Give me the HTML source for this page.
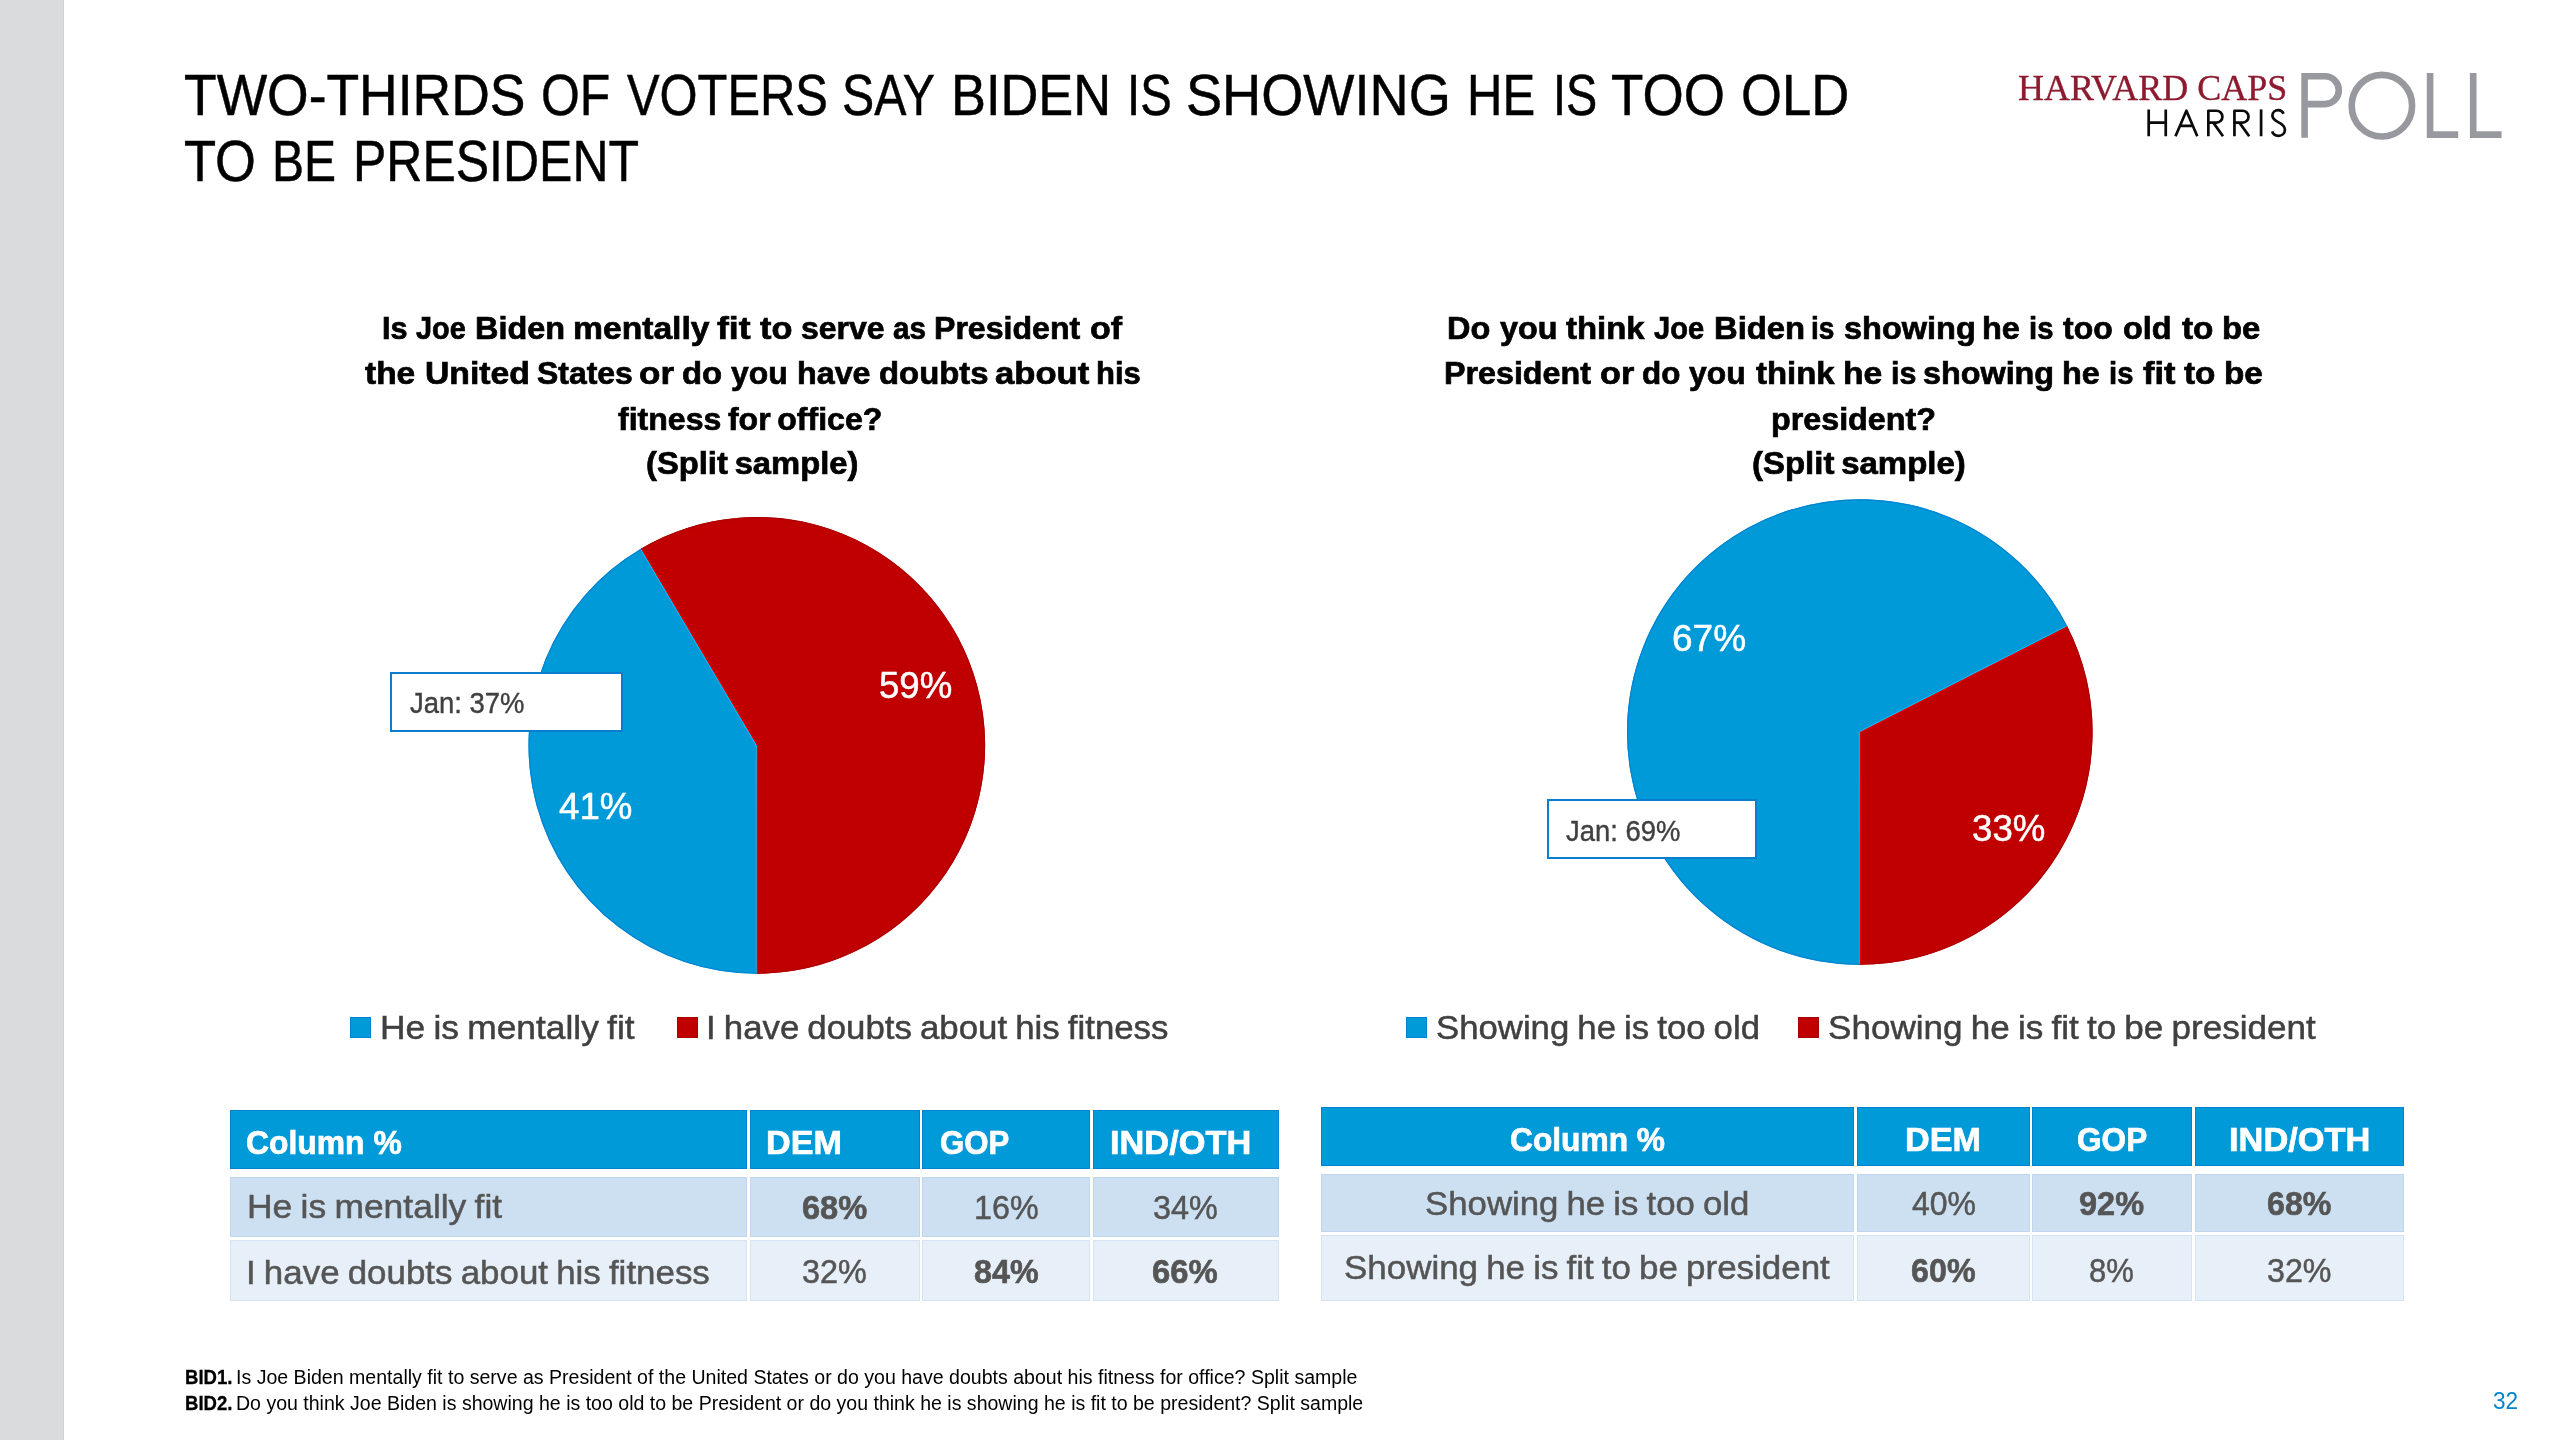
<!DOCTYPE html>
<html lang="en"><head><meta charset="utf-8"><title>Harvard CAPS Harris Poll</title>
<style>
html,body{margin:0;padding:0;background:#fff}
body{width:2560px;height:1440px;position:relative;overflow:hidden;font-family:"Liberation Sans",sans-serif}
.t{position:absolute;white-space:pre;transform-origin:0 0;font-weight:400}
.b{font-weight:700}
.f2{font-family:"Liberation Serif",serif}
.r{position:absolute}
svg{position:absolute;left:0;top:0}
.L{position:absolute;left:0;top:0;width:2560px;height:1440px;will-change:transform}
</style></head><body>
<div class="r" style="left:0.0px;top:0.0px;width:64.0px;height:1440.0px;background:#DADBDD"></div>
<div class="r" style="left:63.0px;top:0.0px;width:1.0px;height:1440.0px;background:#CFD1D6"></div>
<svg width="2560" height="1440" viewBox="0 0 2560 1440"><path d="M756.8,745.4 L639.56,549.50 A228.3,228.3 0 1 1 755.21,973.69 Z" fill="#C00000"/><path d="M756.8,745.4 L756.80,973.70 A228.3,228.3 0 0 1 640.93,548.69 Z" fill="#009AD9"/><path d="M756.80,973.10 A227.7,227.7 0 0 1 641.23,549.21" fill="none" stroke="#0083D2" stroke-width="1.2"/><path d="M641.23,549.21 A227.7,227.7 0 1 1 756.80,973.10" fill="none" stroke="#AE0000" stroke-width="1.2"/><path d="M756.30,745.40 L756.30,973.20" stroke="#0CC0FF" stroke-width="1" fill="none"/><path d="M757.30,745.40 L757.30,973.20" stroke="#F40000" stroke-width="1" fill="none"/><path d="M756.37,745.65 L640.75,549.37" stroke="#0CC0FF" stroke-width="1" fill="none"/><path d="M757.23,745.15 L641.61,548.87" stroke="#F40000" stroke-width="1" fill="none"/><path d="M1859.8,732.0 L2066.48,624.87 A232.8,232.8 0 0 1 1858.17,964.79 Z" fill="#C00000"/><path d="M1859.8,732.0 L1859.80,964.80 A232.8,232.8 0 1 1 2067.23,626.31 Z" fill="#009AD9"/><path d="M1859.80,964.20 A232.2,232.2 0 1 1 2066.69,626.58" fill="none" stroke="#0083D2" stroke-width="1.2"/><path d="M2066.69,626.58 A232.2,232.2 0 0 1 1859.80,964.20" fill="none" stroke="#AE0000" stroke-width="1.2"/><path d="M1859.30,732.00 L1859.30,964.30" stroke="#0CC0FF" stroke-width="1" fill="none"/><path d="M1860.30,732.00 L1860.30,964.30" stroke="#F40000" stroke-width="1" fill="none"/><path d="M1859.57,731.55 L2066.55,626.09" stroke="#0CC0FF" stroke-width="1" fill="none"/><path d="M1860.03,732.45 L2067.01,626.98" stroke="#F40000" stroke-width="1" fill="none"/><g fill="none" stroke="#97999E" stroke-width="6.6"><path d="M2304.6,137.7 V76.3 H2324.9 A13.9,13.9 0 0 1 2324.9,104.1 H2304.6"/><ellipse cx="2381.9" cy="105.7" rx="30.2" ry="30.8"/><path d="M2430.1,73 V134.6 H2458.2"/><path d="M2473.2,73 V134.6 H2501.6"/></g><g fill="none" stroke="#0a0a0a" stroke-width="2.7" stroke-linejoin="round"><path d="M2148.7,109.4 V136.25 M2165.75,109.4 V136.25 M2148.7,122.65 H2165.75"/><path d="M2175.5,136.25 L2186.4,110.7 L2197.3,136.25 M2180.4,125.9 H2192.4"/><path d="M2208.35,136.25 V110.75 H2216.45 A5.95,5.95 0 0 1 2216.45,122.65 H2208.35 M2213.3,122.65 L2223.0,136.25"/><path d="M2234.45,136.25 V110.75 H2242.55 A5.95,5.95 0 0 1 2242.55,122.65 H2234.45 M2239.4,122.65 L2249.2,136.25"/><path d="M2261.1,109.4 V136.25"/><path d="M2283.6,113.8 C2282.6,111.5 2280.7,110.1 2278.3,110.1 C2275,110.1 2272.4,112.4 2272.4,115.6 C2272.4,119 2275,120.6 2278.6,122.4 C2282.3,124.2 2284.9,126.2 2284.9,129.8 C2284.9,133.3 2282.2,135.85 2278.5,135.85 C2275.3,135.85 2272.9,134 2272.2,131.4"/></g></svg>
<div class="r" style="left:390.0px;top:672.0px;width:228.5px;height:56.2px;background:#fff;border:2px solid #0A7DCE"></div>
<div class="r" style="left:1546.8px;top:799.4px;width:206.2px;height:56.0px;background:#fff;border:2px solid #0A7DCE"></div>
<div class="r" style="left:350px;top:1017px;width:21px;height:21px;background:#009AD9;box-shadow:inset 0 0 0 1px rgba(0,80,190,0.3)"></div>
<div class="r" style="left:677px;top:1017px;width:21px;height:21px;background:#C00000;box-shadow:inset 0 0 0 1px rgba(110,0,0,0.3)"></div>
<div class="r" style="left:1406px;top:1017px;width:21px;height:21px;background:#009AD9;box-shadow:inset 0 0 0 1px rgba(0,80,190,0.3)"></div>
<div class="r" style="left:1798px;top:1017px;width:21px;height:21px;background:#C00000;box-shadow:inset 0 0 0 1px rgba(110,0,0,0.3)"></div>
<div class="r" style="left:230.0px;top:1110.3px;width:516.7px;height:58.4px;background:#009AD9;box-shadow:inset 0 0 0 1px rgba(0,80,190,0.32)"></div><div class="r" style="left:230.0px;top:1177.0px;width:516.7px;height:60.3px;background:#CCE0F2;box-shadow:inset 0 0 0 1px rgba(120,160,215,0.15)"></div><div class="r" style="left:230.0px;top:1239.7px;width:516.7px;height:61.5px;background:#E7EFF8;box-shadow:inset 0 0 0 1px rgba(120,160,215,0.15)"></div><div class="r" style="left:749.9px;top:1110.3px;width:169.9px;height:58.4px;background:#009AD9;box-shadow:inset 0 0 0 1px rgba(0,80,190,0.32)"></div><div class="r" style="left:749.9px;top:1177.0px;width:169.9px;height:60.3px;background:#CCE0F2;box-shadow:inset 0 0 0 1px rgba(120,160,215,0.15)"></div><div class="r" style="left:749.9px;top:1239.7px;width:169.9px;height:61.5px;background:#E7EFF8;box-shadow:inset 0 0 0 1px rgba(120,160,215,0.15)"></div><div class="r" style="left:922.2px;top:1110.3px;width:168.2px;height:58.4px;background:#009AD9;box-shadow:inset 0 0 0 1px rgba(0,80,190,0.32)"></div><div class="r" style="left:922.2px;top:1177.0px;width:168.2px;height:60.3px;background:#CCE0F2;box-shadow:inset 0 0 0 1px rgba(120,160,215,0.15)"></div><div class="r" style="left:922.2px;top:1239.7px;width:168.2px;height:61.5px;background:#E7EFF8;box-shadow:inset 0 0 0 1px rgba(120,160,215,0.15)"></div><div class="r" style="left:1092.8px;top:1110.3px;width:186.0px;height:58.4px;background:#009AD9;box-shadow:inset 0 0 0 1px rgba(0,80,190,0.32)"></div><div class="r" style="left:1092.8px;top:1177.0px;width:186.0px;height:60.3px;background:#CCE0F2;box-shadow:inset 0 0 0 1px rgba(120,160,215,0.15)"></div><div class="r" style="left:1092.8px;top:1239.7px;width:186.0px;height:61.5px;background:#E7EFF8;box-shadow:inset 0 0 0 1px rgba(120,160,215,0.15)"></div>
<div class="r" style="left:1320.9px;top:1107.0px;width:533.4px;height:58.7px;background:#009AD9;box-shadow:inset 0 0 0 1px rgba(0,80,190,0.32)"></div><div class="r" style="left:1320.9px;top:1174.2px;width:533.4px;height:58.2px;background:#CCE0F2;box-shadow:inset 0 0 0 1px rgba(120,160,215,0.15)"></div><div class="r" style="left:1320.9px;top:1235.0px;width:533.4px;height:66.1px;background:#E7EFF8;box-shadow:inset 0 0 0 1px rgba(120,160,215,0.15)"></div><div class="r" style="left:1857.1px;top:1107.0px;width:172.5px;height:58.7px;background:#009AD9;box-shadow:inset 0 0 0 1px rgba(0,80,190,0.32)"></div><div class="r" style="left:1857.1px;top:1174.2px;width:172.5px;height:58.2px;background:#CCE0F2;box-shadow:inset 0 0 0 1px rgba(120,160,215,0.15)"></div><div class="r" style="left:1857.1px;top:1235.0px;width:172.5px;height:66.1px;background:#E7EFF8;box-shadow:inset 0 0 0 1px rgba(120,160,215,0.15)"></div><div class="r" style="left:2032.2px;top:1107.0px;width:159.7px;height:58.7px;background:#009AD9;box-shadow:inset 0 0 0 1px rgba(0,80,190,0.32)"></div><div class="r" style="left:2032.2px;top:1174.2px;width:159.7px;height:58.2px;background:#CCE0F2;box-shadow:inset 0 0 0 1px rgba(120,160,215,0.15)"></div><div class="r" style="left:2032.2px;top:1235.0px;width:159.7px;height:66.1px;background:#E7EFF8;box-shadow:inset 0 0 0 1px rgba(120,160,215,0.15)"></div><div class="r" style="left:2195.0px;top:1107.0px;width:209.1px;height:58.7px;background:#009AD9;box-shadow:inset 0 0 0 1px rgba(0,80,190,0.32)"></div><div class="r" style="left:2195.0px;top:1174.2px;width:209.1px;height:58.2px;background:#CCE0F2;box-shadow:inset 0 0 0 1px rgba(120,160,215,0.15)"></div><div class="r" style="left:2195.0px;top:1235.0px;width:209.1px;height:66.1px;background:#E7EFF8;box-shadow:inset 0 0 0 1px rgba(120,160,215,0.15)"></div>
<div class="L">
<div class="t" style="left:183.88px;top:66.00px;font-size:58.0px;line-height:58.0px;color:#000;transform:scaleX(0.9215);-webkit-text-stroke:0.5px #000">TWO-THIRDS</div>
<div class="t" style="left:540.98px;top:66.00px;font-size:58.0px;line-height:58.0px;color:#000;transform:scaleX(0.8605);-webkit-text-stroke:0.5px #000">OF</div>
<div class="t" style="left:626.50px;top:66.00px;font-size:58.0px;line-height:58.0px;color:#000;transform:scaleX(0.8424);-webkit-text-stroke:0.5px #000">VOTERS</div>
<div class="t" style="left:842.24px;top:66.00px;font-size:58.0px;line-height:58.0px;color:#000;transform:scaleX(0.8306);-webkit-text-stroke:0.5px #000">SAY</div>
<div class="t" style="left:950.79px;top:66.00px;font-size:58.0px;line-height:58.0px;color:#000;transform:scaleX(0.9030);-webkit-text-stroke:0.5px #000">BIDEN</div>
<div class="t" style="left:1126.53px;top:66.00px;font-size:58.0px;line-height:58.0px;color:#000;transform:scaleX(0.8149);-webkit-text-stroke:0.5px #000">IS</div>
<div class="t" style="left:1186.33px;top:66.00px;font-size:58.0px;line-height:58.0px;color:#000;transform:scaleX(0.9338);-webkit-text-stroke:0.5px #000">SHOWING</div>
<div class="t" style="left:1467.42px;top:66.00px;font-size:58.0px;line-height:58.0px;color:#000;transform:scaleX(0.8453);-webkit-text-stroke:0.5px #000">HE</div>
<div class="t" style="left:1553.17px;top:66.00px;font-size:58.0px;line-height:58.0px;color:#000;transform:scaleX(0.8064);-webkit-text-stroke:0.5px #000">IS</div>
<div class="t" style="left:1610.99px;top:66.00px;font-size:58.0px;line-height:58.0px;color:#000;transform:scaleX(0.9140);-webkit-text-stroke:0.5px #000">TOO</div>
<div class="t" style="left:1740.99px;top:66.00px;font-size:58.0px;line-height:58.0px;color:#000;transform:scaleX(0.9070);-webkit-text-stroke:0.5px #000">OLD</div>
<div class="t" style="left:184.09px;top:132.00px;font-size:58.0px;line-height:58.0px;color:#000;transform:scaleX(0.9053);-webkit-text-stroke:0.5px #000">TO</div>
<div class="t" style="left:271.69px;top:132.00px;font-size:58.0px;line-height:58.0px;color:#000;transform:scaleX(0.8282);-webkit-text-stroke:0.5px #000">BE</div>
<div class="t" style="left:352.85px;top:132.00px;font-size:58.0px;line-height:58.0px;color:#000;transform:scaleX(0.8618);-webkit-text-stroke:0.5px #000">PRESIDENT</div>
<div class="t b" style="left:382.44px;top:313.00px;font-size:31.3px;line-height:31.3px;color:#000;transform:scaleX(0.9783);-webkit-text-stroke:0.7px #000">Is</div>
<div class="t b" style="left:416.30px;top:313.00px;font-size:31.3px;line-height:31.3px;color:#000;transform:scaleX(0.9226);-webkit-text-stroke:0.7px #000">Joe</div>
<div class="t b" style="left:475.13px;top:313.00px;font-size:31.3px;line-height:31.3px;color:#000;transform:scaleX(1.0349);-webkit-text-stroke:0.7px #000">Biden</div>
<div class="t b" style="left:572.65px;top:313.00px;font-size:31.3px;line-height:31.3px;color:#000;transform:scaleX(1.0752);-webkit-text-stroke:0.7px #000">mentally</div>
<div class="t b" style="left:717.00px;top:313.00px;font-size:31.3px;line-height:31.3px;color:#000;transform:scaleX(1.1379);-webkit-text-stroke:0.7px #000">fit</div>
<div class="t b" style="left:759.50px;top:313.00px;font-size:31.3px;line-height:31.3px;color:#000;transform:scaleX(1.0966);-webkit-text-stroke:0.7px #000">to</div>
<div class="t b" style="left:800.68px;top:313.00px;font-size:31.3px;line-height:31.3px;color:#000;transform:scaleX(1.0212);-webkit-text-stroke:0.7px #000">serve</div>
<div class="t b" style="left:892.95px;top:313.00px;font-size:31.3px;line-height:31.3px;color:#000;transform:scaleX(0.9485);-webkit-text-stroke:0.7px #000">as</div>
<div class="t b" style="left:934.05px;top:313.00px;font-size:31.3px;line-height:31.3px;color:#000;transform:scaleX(1.0248);-webkit-text-stroke:0.7px #000">President</div>
<div class="t b" style="left:1089.71px;top:313.00px;font-size:31.3px;line-height:31.3px;color:#000;transform:scaleX(1.0862);-webkit-text-stroke:0.7px #000">of</div>
<div class="t b" style="left:364.70px;top:358.00px;font-size:31.3px;line-height:31.3px;color:#000;transform:scaleX(1.0696);-webkit-text-stroke:0.7px #000">the</div>
<div class="t b" style="left:424.52px;top:358.00px;font-size:31.3px;line-height:31.3px;color:#000;transform:scaleX(1.0779);-webkit-text-stroke:0.7px #000">United</div>
<div class="t b" style="left:537.08px;top:358.00px;font-size:31.3px;line-height:31.3px;color:#000;transform:scaleX(1.0196);-webkit-text-stroke:0.7px #000">States</div>
<div class="t b" style="left:639.38px;top:358.00px;font-size:31.3px;line-height:31.3px;color:#000;transform:scaleX(1.1200);-webkit-text-stroke:0.7px #000">or</div>
<div class="t b" style="left:682.15px;top:358.00px;font-size:31.3px;line-height:31.3px;color:#000;transform:scaleX(1.0500);-webkit-text-stroke:0.7px #000">do</div>
<div class="t b" style="left:731.00px;top:358.00px;font-size:31.3px;line-height:31.3px;color:#000;transform:scaleX(1.0185);-webkit-text-stroke:0.7px #000">you</div>
<div class="t b" style="left:796.54px;top:358.00px;font-size:31.3px;line-height:31.3px;color:#000;transform:scaleX(1.0304);-webkit-text-stroke:0.7px #000">have</div>
<div class="t b" style="left:878.75px;top:358.00px;font-size:31.3px;line-height:31.3px;color:#000;transform:scaleX(1.0500);-webkit-text-stroke:0.7px #000">doubts</div>
<div class="t b" style="left:995.19px;top:358.00px;font-size:31.3px;line-height:31.3px;color:#000;transform:scaleX(1.1060);-webkit-text-stroke:0.7px #000">about</div>
<div class="t b" style="left:1095.82px;top:358.00px;font-size:31.3px;line-height:31.3px;color:#000;transform:scaleX(0.9905);-webkit-text-stroke:0.7px #000">his</div>
<div class="t b" style="left:618.30px;top:404.00px;font-size:31.3px;line-height:31.3px;color:#000;transform:scaleX(1.0237);word-spacing:-2.2px;-webkit-text-stroke:0.7px #000">fitness for office?</div>
<div class="t b" style="left:646.45px;top:448.00px;font-size:31.3px;line-height:31.3px;color:#000;transform:scaleX(1.0463);word-spacing:-2.2px;-webkit-text-stroke:0.7px #000">(Split sample)</div>
<div class="t b" style="left:1447.42px;top:313.00px;font-size:31.3px;line-height:31.3px;color:#000;transform:scaleX(1.0385);-webkit-text-stroke:0.7px #000">Do</div>
<div class="t b" style="left:1499.90px;top:313.00px;font-size:31.3px;line-height:31.3px;color:#000;transform:scaleX(1.0333);-webkit-text-stroke:0.7px #000">you</div>
<div class="t b" style="left:1566.30px;top:313.00px;font-size:31.3px;line-height:31.3px;color:#000;transform:scaleX(1.0507);-webkit-text-stroke:0.7px #000">think</div>
<div class="t b" style="left:1654.10px;top:313.00px;font-size:31.3px;line-height:31.3px;color:#000;transform:scaleX(0.9283);-webkit-text-stroke:0.7px #000">Joe</div>
<div class="t b" style="left:1713.50px;top:313.00px;font-size:31.3px;line-height:31.3px;color:#000;transform:scaleX(1.0482);-webkit-text-stroke:0.7px #000">Biden</div>
<div class="t b" style="left:1811.41px;top:313.00px;font-size:31.3px;line-height:31.3px;color:#000;transform:scaleX(0.8957);-webkit-text-stroke:0.7px #000">is</div>
<div class="t b" style="left:1843.76px;top:313.00px;font-size:31.3px;line-height:31.3px;color:#000;transform:scaleX(1.0379);-webkit-text-stroke:0.7px #000">showing</div>
<div class="t b" style="left:1981.72px;top:313.00px;font-size:31.3px;line-height:31.3px;color:#000;transform:scaleX(1.0382);-webkit-text-stroke:0.7px #000">he</div>
<div class="t b" style="left:2029.23px;top:313.00px;font-size:31.3px;line-height:31.3px;color:#000;transform:scaleX(0.9348);-webkit-text-stroke:0.7px #000">is</div>
<div class="t b" style="left:2062.90px;top:313.00px;font-size:31.3px;line-height:31.3px;color:#000;transform:scaleX(1.0208);-webkit-text-stroke:0.7px #000">too</div>
<div class="t b" style="left:2122.86px;top:313.00px;font-size:31.3px;line-height:31.3px;color:#000;transform:scaleX(1.0364);-webkit-text-stroke:0.7px #000">old</div>
<div class="t b" style="left:2181.50px;top:313.00px;font-size:31.3px;line-height:31.3px;color:#000;transform:scaleX(1.0655);-webkit-text-stroke:0.7px #000">to</div>
<div class="t b" style="left:2222.40px;top:313.00px;font-size:31.3px;line-height:31.3px;color:#000;transform:scaleX(1.0500);-webkit-text-stroke:0.7px #000">be</div>
<div class="t b" style="left:1443.64px;top:358.00px;font-size:31.3px;line-height:31.3px;color:#000;transform:scaleX(1.0298);-webkit-text-stroke:0.7px #000">President</div>
<div class="t b" style="left:1599.71px;top:358.00px;font-size:31.3px;line-height:31.3px;color:#000;transform:scaleX(1.0933);-webkit-text-stroke:0.7px #000">or</div>
<div class="t b" style="left:1641.60px;top:358.00px;font-size:31.3px;line-height:31.3px;color:#000;transform:scaleX(1.0028);-webkit-text-stroke:0.7px #000">do</div>
<div class="t b" style="left:1689.40px;top:358.00px;font-size:31.3px;line-height:31.3px;color:#000;transform:scaleX(1.0167);-webkit-text-stroke:0.7px #000">you</div>
<div class="t b" style="left:1755.80px;top:358.00px;font-size:31.3px;line-height:31.3px;color:#000;transform:scaleX(1.0507);-webkit-text-stroke:0.7px #000">think</div>
<div class="t b" style="left:1842.85px;top:358.00px;font-size:31.3px;line-height:31.3px;color:#000;transform:scaleX(1.0765);-webkit-text-stroke:0.7px #000">he</div>
<div class="t b" style="left:1890.75px;top:358.00px;font-size:31.3px;line-height:31.3px;color:#000;transform:scaleX(0.9739);-webkit-text-stroke:0.7px #000">is</div>
<div class="t b" style="left:1923.47px;top:358.00px;font-size:31.3px;line-height:31.3px;color:#000;transform:scaleX(1.0331);-webkit-text-stroke:0.7px #000">showing</div>
<div class="t b" style="left:2061.73px;top:358.00px;font-size:31.3px;line-height:31.3px;color:#000;transform:scaleX(1.0353);-webkit-text-stroke:0.7px #000">he</div>
<div class="t b" style="left:2109.13px;top:358.00px;font-size:31.3px;line-height:31.3px;color:#000;transform:scaleX(0.9348);-webkit-text-stroke:0.7px #000">is</div>
<div class="t b" style="left:2142.80px;top:358.00px;font-size:31.3px;line-height:31.3px;color:#000;transform:scaleX(1.0966);-webkit-text-stroke:0.7px #000">fit</div>
<div class="t b" style="left:2184.10px;top:358.00px;font-size:31.3px;line-height:31.3px;color:#000;transform:scaleX(1.0655);-webkit-text-stroke:0.7px #000">to</div>
<div class="t b" style="left:2224.07px;top:358.00px;font-size:31.3px;line-height:31.3px;color:#000;transform:scaleX(1.0647);-webkit-text-stroke:0.7px #000">be</div>
<div class="t b" style="left:1770.84px;top:404.00px;font-size:31.3px;line-height:31.3px;color:#000;transform:scaleX(1.0308);word-spacing:-2.2px;-webkit-text-stroke:0.7px #000">president?</div>
<div class="t b" style="left:1752.15px;top:448.00px;font-size:31.3px;line-height:31.3px;color:#000;transform:scaleX(1.0527);word-spacing:-2.2px;-webkit-text-stroke:0.7px #000">(Split sample)</div>
<div class="t" style="left:879.19px;top:668.00px;font-size:36.4px;line-height:36.4px;color:#fff;transform:scaleX(1.0056);-webkit-text-stroke:0.5px #fff">59%</div>
<div class="t" style="left:559.30px;top:789.00px;font-size:36.4px;line-height:36.4px;color:#fff;transform:scaleX(1.0069);-webkit-text-stroke:0.5px #fff">41%</div>
<div class="t" style="left:1671.58px;top:621.00px;font-size:36.4px;line-height:36.4px;color:#fff;transform:scaleX(1.0169);-webkit-text-stroke:0.5px #fff">67%</div>
<div class="t" style="left:1971.89px;top:811.00px;font-size:36.4px;line-height:36.4px;color:#fff;transform:scaleX(1.0070);-webkit-text-stroke:0.5px #fff">33%</div>
<div class="t" style="left:409.70px;top:688.00px;font-size:29.5px;line-height:29.5px;color:#404040;transform:scaleX(0.9303);-webkit-text-stroke:0.4px #404040">Jan: 37%</div>
<div class="t" style="left:1566.00px;top:816.00px;font-size:29.5px;line-height:29.5px;color:#404040;transform:scaleX(0.9295);-webkit-text-stroke:0.4px #404040">Jan: 69%</div>
<div class="t" style="left:379.69px;top:1011.00px;font-size:33.5px;line-height:33.5px;color:#404040;transform:scaleX(1.0552);word-spacing:-1.5px;-webkit-text-stroke:0.5px #404040">He is mentally fit</div>
<div class="t" style="left:705.88px;top:1011.00px;font-size:33.5px;line-height:33.5px;color:#404040;transform:scaleX(1.0390);word-spacing:-1.5px;-webkit-text-stroke:0.5px #404040">I have doubts about his fitness</div>
<div class="t" style="left:1435.86px;top:1011.00px;font-size:33.5px;line-height:33.5px;color:#404040;transform:scaleX(1.0368);word-spacing:-1.5px;-webkit-text-stroke:0.5px #404040">Showing he is too old</div>
<div class="t" style="left:1827.95px;top:1011.00px;font-size:33.5px;line-height:33.5px;color:#404040;transform:scaleX(1.0471);word-spacing:-1.5px;-webkit-text-stroke:0.5px #404040">Showing he is fit to be president</div>
<div class="t b" style="left:246.44px;top:1126.00px;font-size:33.3px;line-height:33.3px;color:#fff;transform:scaleX(0.9565);-webkit-text-stroke:0.7px #fff">Column %</div>
<div class="t b" style="left:766.35px;top:1126.00px;font-size:33.3px;line-height:33.3px;color:#fff;transform:scaleX(1.0257);-webkit-text-stroke:0.7px #fff">DEM</div>
<div class="t b" style="left:939.66px;top:1126.00px;font-size:33.3px;line-height:33.3px;color:#fff;transform:scaleX(0.9361);-webkit-text-stroke:0.7px #fff">GOP</div>
<div class="t b" style="left:1110.44px;top:1126.00px;font-size:33.3px;line-height:33.3px;color:#fff;transform:scaleX(1.0316);-webkit-text-stroke:0.7px #fff">IND/OTH</div>
<div class="t" style="left:247.28px;top:1190.00px;font-size:33.5px;line-height:33.5px;color:#555555;transform:scaleX(1.0577);word-spacing:-1.5px;-webkit-text-stroke:0.5px #555555">He is mentally fit</div>
<div class="t b" style="left:801.82px;top:1191.00px;font-size:33.3px;line-height:33.3px;color:#555555;transform:scaleX(0.9785);-webkit-text-stroke:0.6px #555555">68%</div>
<div class="t" style="left:973.87px;top:1191.00px;font-size:33.5px;line-height:33.5px;color:#555555;transform:scaleX(0.9641);-webkit-text-stroke:0.5px #555555">16%</div>
<div class="t" style="left:1153.13px;top:1191.00px;font-size:33.5px;line-height:33.5px;color:#555555;transform:scaleX(0.9662);-webkit-text-stroke:0.5px #555555">34%</div>
<div class="t" style="left:246.27px;top:1256.00px;font-size:33.5px;line-height:33.5px;color:#555555;transform:scaleX(1.0422);word-spacing:-1.5px;-webkit-text-stroke:0.5px #555555">I have doubts about his fitness</div>
<div class="t" style="left:802.43px;top:1255.00px;font-size:33.5px;line-height:33.5px;color:#555555;transform:scaleX(0.9662);-webkit-text-stroke:0.5px #555555">32%</div>
<div class="t b" style="left:973.53px;top:1255.00px;font-size:33.3px;line-height:33.3px;color:#555555;transform:scaleX(0.9692);-webkit-text-stroke:0.6px #555555">84%</div>
<div class="t b" style="left:1152.41px;top:1255.00px;font-size:33.3px;line-height:33.3px;color:#555555;transform:scaleX(0.9862);-webkit-text-stroke:0.6px #555555">66%</div>
<div class="t b" style="left:1509.65px;top:1123.00px;font-size:33.3px;line-height:33.3px;color:#fff;transform:scaleX(0.9522);-webkit-text-stroke:0.7px #fff">Column %</div>
<div class="t b" style="left:1905.25px;top:1123.00px;font-size:33.3px;line-height:33.3px;color:#fff;transform:scaleX(1.0257);-webkit-text-stroke:0.7px #fff">DEM</div>
<div class="t b" style="left:2076.55px;top:1123.00px;font-size:33.3px;line-height:33.3px;color:#fff;transform:scaleX(0.9486);-webkit-text-stroke:0.7px #fff">GOP</div>
<div class="t b" style="left:2228.53px;top:1123.00px;font-size:33.3px;line-height:33.3px;color:#fff;transform:scaleX(1.0331);-webkit-text-stroke:0.7px #fff">IND/OTH</div>
<div class="t" style="left:1425.36px;top:1187.00px;font-size:33.5px;line-height:33.5px;color:#555555;transform:scaleX(1.0381);word-spacing:-1.5px;-webkit-text-stroke:0.5px #555555">Showing he is too old</div>
<div class="t" style="left:1911.70px;top:1187.00px;font-size:33.5px;line-height:33.5px;color:#555555;transform:scaleX(0.9545);-webkit-text-stroke:0.5px #555555">40%</div>
<div class="t b" style="left:2078.72px;top:1187.00px;font-size:33.3px;line-height:33.3px;color:#555555;transform:scaleX(0.9754);-webkit-text-stroke:0.6px #555555">92%</div>
<div class="t b" style="left:2266.83px;top:1187.00px;font-size:33.3px;line-height:33.3px;color:#555555;transform:scaleX(0.9662);-webkit-text-stroke:0.6px #555555">68%</div>
<div class="t" style="left:1343.56px;top:1251.00px;font-size:33.5px;line-height:33.5px;color:#555555;transform:scaleX(1.0428);word-spacing:-1.5px;-webkit-text-stroke:0.5px #555555">Showing he is fit to be president</div>
<div class="t b" style="left:1910.73px;top:1254.00px;font-size:33.3px;line-height:33.3px;color:#555555;transform:scaleX(0.9692);-webkit-text-stroke:0.6px #555555">60%</div>
<div class="t" style="left:2089.27px;top:1254.00px;font-size:33.5px;line-height:33.5px;color:#555555;transform:scaleX(0.9255);-webkit-text-stroke:0.5px #555555">8%</div>
<div class="t" style="left:2267.34px;top:1254.00px;font-size:33.5px;line-height:33.5px;color:#555555;transform:scaleX(0.9615);-webkit-text-stroke:0.5px #555555">32%</div>
<div class="t b" style="left:185.44px;top:1368.00px;font-size:19.4px;line-height:19.4px;color:#000;transform:scaleX(0.9563);-webkit-text-stroke:0.3px #000">BID1.</div>
<div class="t" style="left:235.78px;top:1368.00px;font-size:19.4px;line-height:19.4px;color:#000;transform:scaleX(1.0085)">Is Joe Biden mentally fit to serve as President of the United States or do you have doubts about his fitness for office? Split sample</div>
<div class="t b" style="left:185.44px;top:1394.00px;font-size:19.4px;line-height:19.4px;color:#000;transform:scaleX(0.9563);-webkit-text-stroke:0.3px #000">BID2.</div>
<div class="t" style="left:235.78px;top:1394.00px;font-size:19.4px;line-height:19.4px;color:#000;transform:scaleX(1.0075)">Do you think Joe Biden is showing he is too old to be President or do you think he is showing he is fit to be president? Split sample</div>
<div class="t" style="left:2492.94px;top:1390.00px;font-size:23.6px;line-height:23.6px;color:#0085CA;transform:scaleX(0.9583)">32</div>
<div class="t f2" style="left:2018.11px;top:70.00px;font-size:36.2px;line-height:36.2px;color:#8C1B2F;transform:scaleX(0.9933);-webkit-text-stroke:0.35px #8C1B2F">HARVARD CAPS</div>
</div>
</body></html>
